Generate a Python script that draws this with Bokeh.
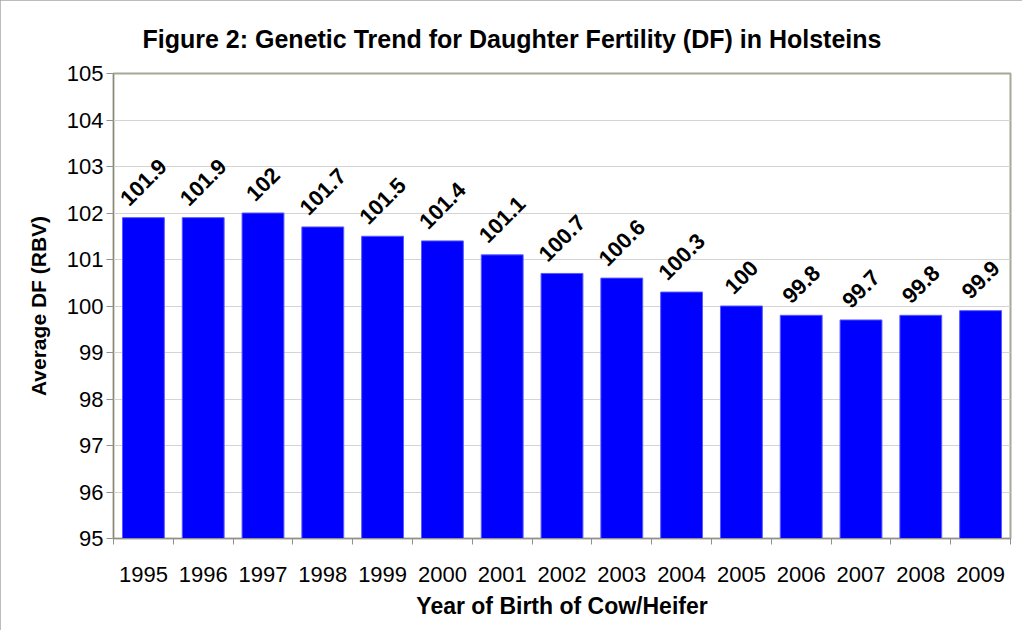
import numpy as np
from bokeh.plotting import figure
from bokeh.models import ColumnDataSource, Range1d, FixedTicker
from bokeh.core.properties import value
from bokeh.embed import file_html
from bokeh.resources import INLINE

years = ["1995", "1996", "1997", "1998", "1999", "2000", "2001", "2002",
         "2003", "2004", "2005", "2006", "2007", "2008", "2009"]
df_values = [101.9, 101.9, 102.0, 101.7, 101.5, 101.4, 101.1, 100.7,
             100.6, 100.3, 100.0, 99.8, 99.7, 99.8, 99.9]
bar_labels = ["101.9", "101.9", "102", "101.7", "101.5", "101.4", "101.1", "100.7",
              "100.6", "100.3", "100", "99.8", "99.7", "99.8", "99.9"]
y_ticks = [95, 96, 97, 98, 99, 100, 101, 102, 103, 104, 105]

FONT = "Liberation Sans"
LABEL_PX = 22

n = len(years)
xpos = [i + 0.5 for i in range(n)]

def label_offset(s):
    # estimate rotated-label half-height so its bottom sits just above the bar
    w = sum(0.278 if c == "." else 0.556 for c in s) * LABEL_PX
    h = 0.75 * LABEL_PX
    return -(10 + (w + h) * 0.7071 / 2)

src = ColumnDataSource(dict(x=xpos, top=df_values, label=bar_labels,
                            yoff=[label_offset(s) for s in bar_labels]))

p = figure(width=1022, height=630, output_backend="svg", toolbar_location=None,
           x_range=Range1d(0, n), y_range=Range1d(95, 105),
           min_border_left=113, min_border_right=12, min_border_top=73,
           min_border_bottom=92)
p.title.text = "Figure 2: Genetic Trend for Daughter Fertility (DF) in Holsteins"
p.title.text_font = FONT
p.title.text_font_size = "25px"
p.title.text_font_style = "bold"
p.title.text_color = "black"
p.title.align = "left"
p.title.offset = 29
p.title.standoff = 42

p.vbar(x="x", top="top", bottom=95, width=0.7, source=src,
       fill_color="#0000ff", line_color="#5a5aff", line_width=1)

p.text(x="x", y="top", text="label", source=src, angle=np.pi / 4,
       text_align="center", text_baseline="middle", y_offset="yoff",
       text_font=value(FONT), text_font_size=f"{LABEL_PX}px",
       text_font_style="bold", text_color="black")

# x axis: labels at centers, ticks at category boundaries
p.xaxis.ticker = FixedTicker(ticks=xpos, minor_ticks=list(range(n + 1)))
p.xaxis.major_label_overrides = {x: y for x, y in zip(xpos, years)}
p.xaxis.major_tick_line_color = None
p.xaxis.minor_tick_line_color = "#909090"
p.xaxis.minor_tick_out = 6
p.xaxis.minor_tick_in = 0
p.xaxis.axis_line_color = "#909090"
p.xaxis.major_label_text_font = FONT
p.xaxis.major_label_text_font_size = "22px"
p.xaxis.major_label_text_color = "black"
p.xaxis.major_label_standoff = 22
p.xaxis.axis_label = "Year of Birth of Cow/Heifer"
p.xaxis.axis_label_text_font = FONT
p.xaxis.axis_label_text_font_size = "23px"
p.xaxis.axis_label_text_font_style = "bold"
p.xaxis.axis_label_text_color = "black"
p.xaxis.axis_label_standoff = 8

p.yaxis.ticker = FixedTicker(ticks=y_ticks)
p.yaxis.minor_tick_line_color = None
p.yaxis.major_tick_line_color = "#909090"
p.yaxis.major_tick_out = 7
p.yaxis.major_tick_in = 0
p.yaxis.axis_line_color = "#8a8a78"
p.yaxis.major_label_text_font = FONT
p.yaxis.major_label_text_font_size = "22px"
p.yaxis.major_label_text_color = "black"
p.yaxis.major_label_standoff = 3
p.yaxis.axis_label = "Average DF (RBV)"
p.yaxis.axis_label_text_font = FONT
p.yaxis.axis_label_text_font_size = "21px"
p.yaxis.axis_label_text_font_style = "bold"
p.yaxis.axis_label_text_color = "black"
p.yaxis.axis_label_standoff = 14

p.xgrid.grid_line_color = None
p.ygrid.grid_line_color = "#d4d4d4"
p.ygrid.grid_line_width = 1

p.outline_line_color = "#a8a898"
p.outline_line_width = 2
p.background_fill_color = "white"
p.border_fill_color = "white"
p.styles = {"outline": "2px solid #a6a6a6", "outline-offset": "-2px"}

open("out.html", "w").write(file_html(p, INLINE))
